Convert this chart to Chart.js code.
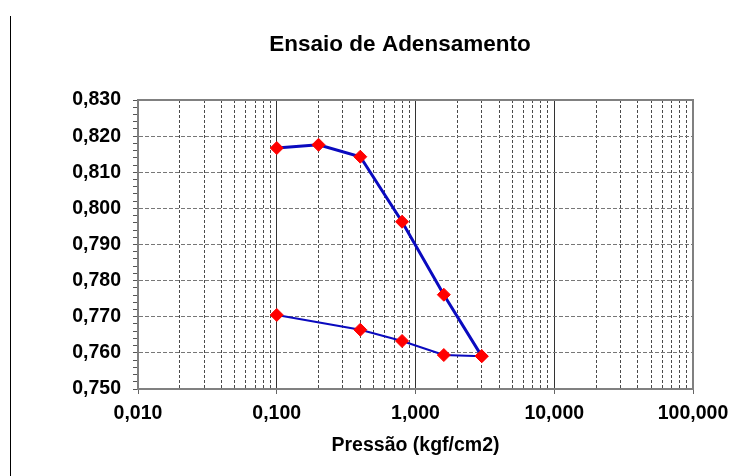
<!DOCTYPE html>
<html><head><meta charset="utf-8">
<style>html,body{margin:0;padding:0;background:#fff;}#wrap{width:739px;height:476px;position:relative;}</style>
<script src="https://cdn.jsdelivr.net/npm/chart.js@4"></script>
</head><body><div id="wrap"><canvas id="c" width="739" height="476"></canvas></div>
<script>
// Data
const pressaoCarga = [0.1, 0.2, 0.4, 0.8, 1.6, 3.0];
const indiceCarga = [0.8167, 0.8176, 0.8143, 0.7963, 0.7761, 0.7591];
const pressaoDescarga = [3.0, 1.6, 0.8, 0.4, 0.1];
const indiceDescarga = [0.7591, 0.7594, 0.7633, 0.7664, 0.7705];
const xDecades = [0.01, 0.1, 1, 10, 100];
const xMinorFactors = [2, 3, 4, 5, 6, 7, 8, 9];
const yMin = 0.75, yMax = 0.83, yStepMajor = 0.01, yStepMinor = 0.002;
const titleText = 'Ensaio de Adensamento';
const xTitleText = 'Pressão (kgf/cm2)';

const FONT = '"Liberation Sans", Arial, sans-serif';
const fmt = v => Number(v).toFixed(3).replace('.', ',');
const isMajorY = v => Math.abs(v / yStepMajor - Math.round(v / yStepMajor)) < 1e-6;

const xMinorTicks = [];
xDecades.slice(0, -1).forEach(d => xMinorFactors.forEach(f => xMinorTicks.push(+(d * f).toPrecision(6))));

const toPts = (xs, ys) => xs.map((x, i) => ({x: x, y: ys[i]}));

const decor = {
  id: 'decor',
  beforeDatasetsDraw(chart) {
    const {ctx, chartArea: a} = chart;
    ctx.save();
    ctx.strokeStyle = '#808080'; ctx.lineWidth = 2;
    ctx.strokeRect(a.left, a.top, a.right - a.left, a.bottom - a.top);
    ctx.strokeStyle = '#000'; ctx.lineWidth = 1;
    ctx.beginPath(); ctx.moveTo(10.5, 16); ctx.lineTo(10.5, 476); ctx.stroke();
    ctx.restore();
  }
};

new Chart(document.getElementById('c'), {
  type: 'line',
  data: {
    datasets: [
      {
        label: 'Carregamento',
        data: toPts(pressaoCarga, indiceCarga),
        borderColor: '#0A0ABF', borderWidth: 3,
        pointStyle: 'rectRot', pointRadius: 6.5, pointHoverRadius: 6.5,
        pointBackgroundColor: '#FF0000', pointBorderColor: '#FF0000', pointBorderWidth: 1,
        tension: 0, fill: false, clip: false
      },
      {
        label: 'Descarregamento',
        data: toPts(pressaoDescarga, indiceDescarga),
        borderColor: '#0A0ABF', borderWidth: 2,
        pointStyle: 'rectRot', pointRadius: 6.5, pointHoverRadius: 6.5,
        pointBackgroundColor: '#FF0000', pointBorderColor: '#FF0000', pointBorderWidth: 1,
        tension: 0, fill: false, clip: false
      }
    ]
  },
  options: {
    responsive: false,
    animation: false,
    devicePixelRatio: 1,
    layout: {padding: {left: 61, right: 0, top: 0, bottom: 0}},
    plugins: {
      legend: {display: false},
      tooltip: {enabled: false},
      title: {
        display: true, text: titleText, color: '#000',
        font: {family: FONT, size: 22.5, weight: 'bold'},
        padding: {top: 31.5, bottom: 41.5}
      }
    },
    scales: {
      x: {
        type: 'logarithmic', position: 'bottom', min: 0.01, max: 100,
        afterBuildTicks: s => { s.ticks = xDecades.map(v => ({value: v, major: true})); },
        afterFit: s => { s.height = 87; s.paddingLeft = 0; s.paddingRight = 0; },
        ticks: {
          autoSkip: false, maxRotation: 0, minRotation: 0, padding: 8, color: '#000',
          font: {family: FONT, size: 19.5, weight: 'bold'},
          callback: v => fmt(v)
        },
        grid: {color: '#333', lineWidth: 1, tickLength: 5, tickColor: '#666', tickBorderDash: []},
        border: {display: true, color: '#808080', width: 2},
        title: {
          display: true, text: xTitleText, color: '#000',
          font: {family: FONT, size: 19.5, weight: 'bold'},
          padding: {top: 0, bottom: 19}
        }
      },
      xm: {
        type: 'logarithmic', position: 'bottom', min: 0.01, max: 100,
        afterBuildTicks: s => { s.ticks = xMinorTicks.map(v => ({value: v})); },
        afterFit: s => { s.height = 0; s.paddingLeft = 0; s.paddingRight = 0; },
        ticks: {display: false, autoSkip: false},
        grid: {color: '#4a4a4a', lineWidth: 1, drawTicks: false},
        border: {display: false, dash: [3, 2]}
      },
      y: {
        type: 'linear', position: 'left', min: yMin, max: yMax,
        afterFit: s => { s.width = 77; s.paddingTop = 0; s.paddingBottom = 0; },
        ticks: {
          stepSize: yStepMinor, autoSkip: false, padding: 12, color: '#000',
          font: {family: FONT, size: 19.5, weight: 'bold'},
          callback: v => isMajorY(v) ? fmt(v) : ''
        },
        grid: {
          color: c => (c.tick && isMajorY(c.tick.value)) ? '#777' : 'rgba(0,0,0,0)',
          lineWidth: 1, tickLength: 5, tickColor: '#555', tickBorderDash: []
        },
        border: {display: true, color: '#808080', width: 2, dash: [4, 2]}
      },
      yr: {
        type: 'linear', position: 'right', min: yMin, max: yMax,
        afterFit: s => { s.width = 46; s.paddingTop = 0; s.paddingBottom = 0; },
        ticks: {display: false},
        grid: {drawOnChartArea: false, drawTicks: false},
        border: {display: false}
      }
    }
  },
  plugins: [decor]
});
</script>
</body></html>
